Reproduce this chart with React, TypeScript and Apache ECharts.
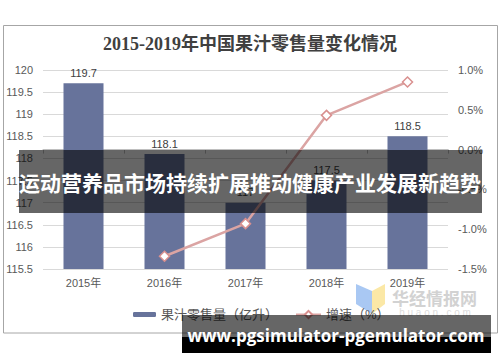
import React, { useEffect, useRef } from "react";
import * as echarts from "echarts";

const categories = ["2015年", "2016年", "2017年", "2018年", "2019年"];
const volume = [119.7, 118.1, 117.0, 117.5, 118.5];
const growth = [null, -1.34, -0.93, 0.43, 0.85];
const titleText = "2015-2019年中国果汁零售量变化情况";
const barName = "果汁零售量（亿升）";
const lineName = "增速（%）";
const bannerText = "运动营养品市场持续扩展推动健康产业发展新趋势";
const urlText = "www.pgsimulator-pgemulator.com";

const SANS = "'Liberation Sans', Arial, 'Noto Sans CJK SC', sans-serif";

export default function App() {
  const ref = useRef<HTMLDivElement>(null);
  useEffect(() => {
    if (!ref.current) return;
    const chart = echarts.init(ref.current, null, { renderer: "svg" });
    chart.setOption({
      animation: false,
      backgroundColor: "#ffffff",
      title: {
        text: titleText,
        left: "center",
        top: 35,
        padding: 0,
        textStyle: {
          fontSize: 18,
          fontWeight: "bold",
          color: "#404040",
          fontFamily: "'Liberation Serif', 'Noto Sans CJK SC', serif",
        },
      },
      grid: { left: 43, right: 52, top: 70, bottom: 93, containLabel: false },
      legend: [
        {
          data: [barName],
          left: 128,
          top: 303,
          itemWidth: 23,
          itemHeight: 5,
          textStyle: { fontSize: 13, color: "#595959", fontFamily: SANS },
        },
        {
          data: [lineName],
          left: 290,
          top: 303,
          itemWidth: 25,
          itemHeight: 9,
          textStyle: { fontSize: 13, color: "#595959", fontFamily: SANS },
        },
      ],
      xAxis: {
        type: "category",
        data: categories,
        axisLine: { lineStyle: { color: "#bfbfbf" } },
        axisTick: { show: true, length: 4, lineStyle: { color: "#bfbfbf" } },
        axisLabel: { fontSize: 11, color: "#595959", margin: 8, fontFamily: SANS },
      },
      yAxis: [
        {
          type: "value",
          min: 115.5,
          max: 120,
          interval: 0.5,
          axisLine: { show: false },
          axisTick: { show: false },
          axisLabel: { fontSize: 11, color: "#595959", margin: 10, fontFamily: SANS },
          splitLine: { lineStyle: { color: "#d9d9d9" } },
        },
        {
          type: "value",
          min: -1.5,
          max: 1.0,
          interval: 0.5,
          axisLine: { show: false },
          axisTick: { show: false },
          axisLabel: {
            fontSize: 11,
            color: "#595959",
            margin: 10,
            fontFamily: SANS,
            formatter: (v: number) => v.toFixed(1) + "%",
          },
          splitLine: { show: false },
        },
      ],
      series: [
        {
          name: barName,
          type: "bar",
          data: volume,
          barWidth: 40,
          itemStyle: { color: "#67739B" },
          label: {
            show: true,
            position: "top",
            distance: 5,
            fontSize: 11,
            color: "#404040",
            fontFamily: SANS,
          },
          z: 2,
        },
        {
          name: lineName,
          type: "line",
          yAxisIndex: 1,
          data: growth,
          symbol: "diamond",
          symbolSize: 10,
          showSymbol: true,
          connectNulls: false,
          lineStyle: { color: "#DBA4A3", width: 2.5 },
          itemStyle: { color: "#ffffff", borderColor: "#D9908F", borderWidth: 1.5 },
          z: 3,
        },
      ],
      graphic: [
        {
          type: "rect",
          z: 0,
          silent: true,
          shape: { x: 3.5, y: 25.5, width: 494, height: 307.5 },
          style: { fill: "none", stroke: "#a6a6a6", lineWidth: 1 },
        },
        {
          type: "polygon",
          z: 1,
          silent: true,
          shape: { points: [[356, 284], [372, 291], [372, 314], [356, 304]] },
          style: { fill: "#A9C8F3" },
        },
        {
          type: "polygon",
          z: 1,
          silent: true,
          shape: { points: [[372, 291], [385, 284], [385, 304], [372, 314]] },
          style: { fill: "#FBE8A6" },
        },
        {
          type: "text",
          z: 1,
          silent: true,
          x: 392,
          y: 297,
          style: {
            text: "华经情报网",
            fill: "#d2d2d2",
            fontSize: 17,
            fontWeight: "bold",
            fontFamily: "'Noto Sans CJK SC', sans-serif",
            verticalAlign: "middle",
          },
        },
        {
          type: "text",
          z: 1,
          silent: true,
          x: 435,
          y: 312,
          style: {
            text: "h u a o n . c o m",
            fill: "#dcdcdc",
            fontSize: 10,
            fontFamily: SANS,
            align: "center",
            verticalAlign: "middle",
          },
        },
        {
          type: "rect",
          z: 100,
          silent: true,
          shape: { x: 19, y: 150, width: 463, height: 63 },
          style: { fill: "rgba(0,0,0,0.6)" },
        },
        {
          type: "text",
          z: 101,
          silent: true,
          x: 250,
          y: 182,
          style: {
            text: bannerText,
            fill: "#ffffff",
            fontSize: 21,
            fontWeight: "bold",
            fontFamily: "'Noto Sans CJK SC', sans-serif",
            align: "center",
            verticalAlign: "middle",
          },
        },
        {
          type: "rect",
          z: 100,
          silent: true,
          shape: { x: 182, y: 315, width: 309, height: 22 },
          style: { fill: "rgba(0,0,0,0.6)" },
        },
        {
          type: "rect",
          z: 100,
          silent: true,
          shape: { x: 182, y: 337, width: 309, height: 16 },
          style: { fill: "#000000" },
        },
        {
          type: "text",
          z: 101,
          silent: true,
          x: 336,
          y: 335,
          style: {
            text: urlText,
            fill: "#ffffff",
            fontSize: 17,
            fontWeight: "bold",
            fontFamily: "'Open Sans', 'DejaVu Sans', sans-serif",
            align: "center",
            verticalAlign: "middle",
          },
        },
      ],
    });
    return () => chart.dispose();
  }, []);
  return (
    <div
      ref={ref}
      style={{ position: "absolute", left: 0, top: 0, width: 500, height: 362 }}
    />
  );
}
